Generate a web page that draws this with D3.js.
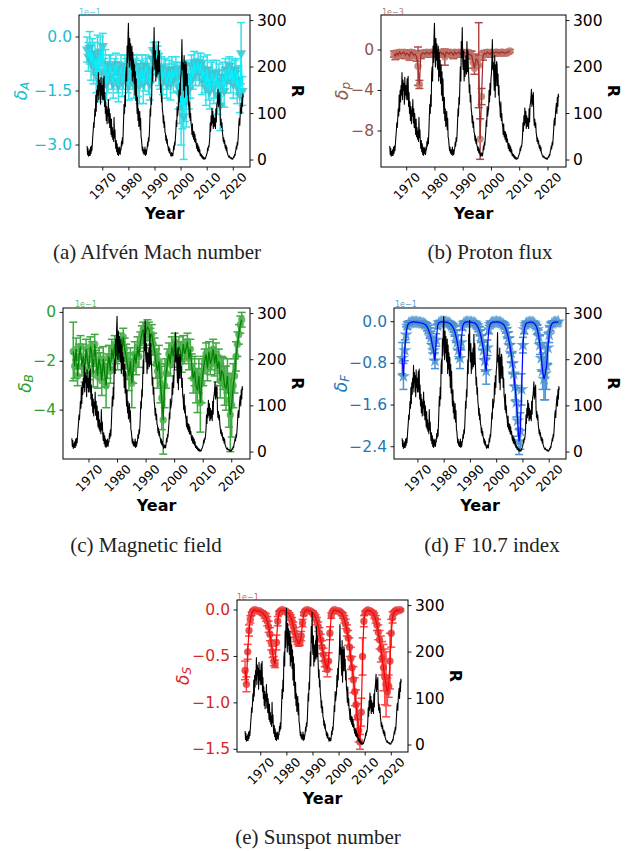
<!DOCTYPE html>
<html><head><meta charset="utf-8">
<script src="https://cdn.jsdelivr.net/npm/d3@7"></script>
<style>body{margin:0;background:#fff}svg{display:block}</style>
</head><body><svg id="c" width="635" height="851"></svg>
<script>
// ---------------- DATA ----------------
// Sunspot number R (bi-monthly samples)
const rYears = [
1964,1964.17,1964.33,1964.5,1964.67,1964.83, 1965,1965.17,1965.33,1965.5,1965.67,1965.83,
1966,1966.17,1966.33,1966.5,1966.67,1966.83, 1967,1967.17,1967.33,1967.5,1967.67,1967.83,
1968,1968.17,1968.33,1968.5,1968.67,1968.83, 1969,1969.17,1969.33,1969.5,1969.67,1969.83,
1970,1970.17,1970.33,1970.5,1970.67,1970.83, 1971,1971.17,1971.33,1971.5,1971.67,1971.83,
1972,1972.17,1972.33,1972.5,1972.67,1972.83, 1973,1973.17,1973.33,1973.5,1973.67,1973.83,
1974,1974.17,1974.33,1974.5,1974.67,1974.83, 1975,1975.17,1975.33,1975.5,1975.67,1975.83,
1976,1976.17,1976.33,1976.5,1976.67,1976.83, 1977,1977.17,1977.33,1977.5,1977.67,1977.83,
1978,1978.17,1978.33,1978.5,1978.67,1978.83, 1979,1979.17,1979.33,1979.5,1979.67,1979.83,
1980,1980.17,1980.33,1980.5,1980.67,1980.83, 1981,1981.17,1981.33,1981.5,1981.67,1981.83,
1982,1982.17,1982.33,1982.5,1982.67,1982.83, 1983,1983.17,1983.33,1983.5,1983.67,1983.83,
1984,1984.17,1984.33,1984.5,1984.67,1984.83, 1985,1985.17,1985.33,1985.5,1985.67,1985.83,
1986,1986.17,1986.33,1986.5,1986.67,1986.83, 1987,1987.17,1987.33,1987.5,1987.67,1987.83,
1988,1988.17,1988.33,1988.5,1988.67,1988.83, 1989,1989.17,1989.33,1989.5,1989.67,1989.83,
1990,1990.17,1990.33,1990.5,1990.67,1990.83, 1991,1991.17,1991.33,1991.5,1991.67,1991.83,
1992,1992.17,1992.33,1992.5,1992.67,1992.83, 1993,1993.17,1993.33,1993.5,1993.67,1993.83,
1994,1994.17,1994.33,1994.5,1994.67,1994.83, 1995,1995.17,1995.33,1995.5,1995.67,1995.83,
1996,1996.17,1996.33,1996.5,1996.67,1996.83, 1997,1997.17,1997.33,1997.5,1997.67,1997.83,
1998,1998.17,1998.33,1998.5,1998.67,1998.83, 1999,1999.17,1999.33,1999.5,1999.67,1999.83,
2000,2000.17,2000.33,2000.5,2000.67,2000.83, 2001,2001.17,2001.33,2001.5,2001.67,2001.83,
2002,2002.17,2002.33,2002.5,2002.67,2002.83, 2003,2003.17,2003.33,2003.5,2003.67,2003.83,
2004,2004.17,2004.33,2004.5,2004.67,2004.83, 2005,2005.17,2005.33,2005.5,2005.67,2005.83,
2006,2006.17,2006.33,2006.5,2006.67,2006.83, 2007,2007.17,2007.33,2007.5,2007.67,2007.83,
2008,2008.17,2008.33,2008.5,2008.67,2008.83, 2009,2009.17,2009.33,2009.5,2009.67,2009.83,
2010,2010.17,2010.33,2010.5,2010.67,2010.83, 2011,2011.17,2011.33,2011.5,2011.67,2011.83,
2012,2012.17,2012.33,2012.5,2012.67,2012.83, 2013,2013.17,2013.33,2013.5,2013.67,2013.83,
2014,2014.17,2014.33,2014.5,2014.67,2014.83, 2015,2015.17,2015.33,2015.5,2015.67,2015.83,
2016,2016.17,2016.33,2016.5,2016.67,2016.83, 2017,2017.17,2017.33,2017.5,2017.67,2017.83,
2018,2018.17,2018.33,2018.5,2018.67,2018.83, 2019,2019.17,2019.33,2019.5,2019.67,2019.83,
2020,2020.17,2020.33,2020.5,2020.67,2020.83, 2021,2021.17,2021.33,2021.5,2021.67,2021.83,
2022,2022.17,2022.33,2022.5,2022.67,2022.83, 2023,2023.17,2023.33,2023.5,2023.67,2023.83];
const sunspotR = [
30,12,25,8,18,10, 22,10,28,14,30,20,
35,50,62,80,70,90, 110,95,140,105,150,125,
160,140,188,130,172,150, 165,120,178,140,160,130,
155,175,130,180,115,145, 100,125,85,115,78,108,
95,130,80,110,70,100, 75,55,88,50,70,45,
62,40,92,48,65,38, 25,42,18,35,12,28,
10,25,14,28,12,22, 22,40,30,48,35,60,
90,120,100,140,115,185, 200,170,245,210,265,294,
230,200,262,215,250,205, 195,245,170,232,180,215,
165,205,140,190,128,175, 125,100,135,85,110,72,
82,105,65,90,50,45, 32,20,28,15,22,12,
15,28,10,22,12,20, 25,38,30,48,40,55,
80,110,95,135,120,165, 200,170,255,220,285,212,
195,235,170,215,180,205, 225,185,255,190,235,200,
175,145,162,125,140,110, 102,80,95,70,82,60,
58,42,52,36,45,32, 30,20,28,16,24,14,
12,8,16,10,14,9, 18,30,22,38,32,48,
62,85,72,115,95,105, 110,150,125,165,140,175,
185,215,259,195,210,180, 150,225,135,205,160,212,
205,160,185,140,160,122, 115,92,125,85,100,78,
72,55,78,50,62,45, 60,40,55,38,45,32,
25,36,20,32,18,28, 15,22,10,14,8,12,
5,9,3,7,2,5, 2,4,3,7,9,13,
15,26,20,30,28,36, 50,80,62,95,75,112,
80,105,68,95,72,90, 85,68,110,82,118,122,
135,152,115,140,120,145, 92,75,88,70,80,60,
52,40,48,35,42,30, 25,32,20,28,16,14,
10,8,6,9,5,6, 4,3,5,2,3,2,
5,8,6,12,10,18, 22,30,24,38,32,45,
62,82,90,75,100,112, 122,100,135,115,142,135];

// Delta series (semi-annual samples)
const dYears = [
1964,1964.5,1965,1965.5,1966,1966.5,1967,1967.5,1968,1968.5,1969,1969.5,1970,1970.5,1971,1971.5,1972,1972.5,1973,1973.5,
1974,1974.5,1975,1975.5,1976,1976.5,1977,1977.5,1978,1978.5,1979,1979.5,1980,1980.5,1981,1981.5,1982,1982.5,1983,1983.5,
1984,1984.5,1985,1985.5,1986,1986.5,1987,1987.5,1988,1988.5,1989,1989.5,1990,1990.5,1991,1991.5,1992,1992.5,1993,1993.5,
1994,1994.5,1995,1995.5,1996,1996.5,1997,1997.5,1998,1998.5,1999,1999.5,2000,2000.5,2001,2001.5,2002,2002.5,2003,2003.5,
2004,2004.5,2005,2005.5,2006,2006.5,2007,2007.5,2008,2008.5,2009,2009.5,2010,2010.5,2011,2011.5,2012,2012.5,2013,2013.5,
2014,2014.5,2015,2015.5,2016,2016.5,2017,2017.5,2018,2018.5,2019,2019.5,2020,2020.5,2021,2021.5,2022,2022.5,2023,2023.5];

// (a) Alfvén Mach number, units of 1e-1
const deltaA = [
-0.35,-0.55,-0.30,-0.70,-0.45,-0.85,-0.60,-1.05,-0.50,-1.20,-0.40,-0.95,-0.25,-1.00,-0.75,-1.30,-1.15,-0.85,-0.80,-1.10,
-1.30,-0.90,-0.75,-1.20,-1.35,-1.00,-0.85,-1.25,-1.10,-0.80,-0.90,-1.20,-1.35,-0.95,-0.80,-1.10,-1.30,-0.90,-0.80,-1.20,
-1.35,-1.00,-0.90,-1.30,-1.10,-0.80,-0.95,-1.20,-1.30,-0.90,-0.60,-0.40,-0.70,-0.45,-0.55,-0.90,-1.10,-0.85,-1.20,-0.95,
-0.90,-1.30,-1.10,-0.95,-1.30,-0.90,-1.15,-1.00,-0.90,-1.10,-1.40,-1.60,-1.90,-1.65,-2.20,-1.50,-1.80,-1.20,-1.45,-1.25,
-0.80,-1.10,-0.70,-1.00,-0.90,-0.70,-1.00,-0.75,-1.20,-0.90,-1.10,-1.40,-0.90,-1.30,-1.50,-1.10,-1.00,-1.40,-1.30,-1.00,
-1.60,-1.20,-1.90,-1.40,-1.10,-1.50,-0.90,-1.20,-1.00,-0.80,-1.20,-0.90,-1.30,-1.00,-0.90,-1.40,-1.20,-1.60,-0.45,-1.50];
const errA = [
0.35,0.40,0.45,0.50,0.40,0.45,0.45,0.50,0.55,0.60,0.40,0.45,0.35,0.40,0.40,0.45,0.40,0.35,0.30,0.35,
0.40,0.30,0.30,0.35,0.45,0.30,0.35,0.40,0.35,0.30,0.30,0.35,0.40,0.35,0.30,0.35,0.40,0.30,0.30,0.45,
0.50,0.35,0.40,0.55,0.40,0.30,0.35,0.40,0.45,0.35,0.30,0.25,0.35,0.30,0.30,0.45,0.35,0.30,0.40,0.35,
0.30,0.40,0.35,0.30,0.45,0.35,0.40,0.30,0.35,0.40,0.60,0.80,1.10,0.90,1.20,0.85,0.70,0.50,0.55,0.45,
0.30,0.35,0.30,0.35,0.30,0.25,0.35,0.30,0.40,0.35,0.45,0.50,0.40,0.45,0.50,0.40,0.35,0.45,0.40,0.35,
0.55,0.45,0.70,0.50,0.40,0.45,0.30,0.35,0.30,0.25,0.35,0.30,0.40,0.35,0.30,0.45,0.40,0.50,0.85,0.40];

// (b) Proton flux, units of 1e-3
const deltaP = [
null,null,null,-0.40,-0.60,-0.30,-0.50,-0.20,-0.40,-0.30,-0.20,-0.50,-0.30,-0.40,-0.60,-0.20,-0.30,-0.50,-0.40,-0.70,
-1.60,-3.40,-0.50,-0.30,-0.30,-0.40,-0.20,-0.30,-0.40,-0.20,-0.30,-0.20,-0.20,-0.30,-0.40,-0.30,-0.20,-0.40,-0.30,-0.70,
-0.20,-0.30,-0.40,-0.20,-0.30,-0.50,-0.20,-0.40,-0.30,-0.20,-0.40,-0.30,-0.20,-0.30,-0.30,-0.20,-0.40,-0.50,-0.50,-1.20,
-1.80,-0.90,-1.00,-1.50,-8.80,-4.60,-0.60,-0.30,-0.40,-0.20,-0.30,-0.40,-0.20,-0.30,-0.30,-0.20,-0.20,-0.30,-0.30,-0.20,
-0.20,-0.30,-0.30,-0.20,-0.20,-0.10,null,null,null,null,null,null,null,null,null,null,null,null,null,null,
null,null,null,null,null,null,null,null,null,null,null,null,null,null,null,null,null,null,null,null];
const errP = [
null,null,null,0.30,0.35,0.25,0.30,0.20,0.25,0.30,0.20,0.35,0.25,0.30,0.40,0.20,0.25,0.30,0.30,0.40,
1.90,0.40,0.35,0.25,0.25,0.30,0.20,0.25,0.30,0.20,0.25,0.20,0.20,0.25,0.30,0.25,0.20,0.30,0.25,0.80,
0.20,0.25,0.30,0.20,0.25,0.35,0.20,0.30,0.25,0.20,0.30,0.25,0.20,0.25,0.25,0.20,0.30,0.35,0.40,0.60,
0.60,0.50,0.50,4.20,2.00,0.80,0.40,0.25,0.30,0.20,0.25,0.30,0.20,0.25,0.25,0.20,0.20,0.25,0.25,0.20,
0.20,0.25,0.25,0.20,0.20,0.15,null,null,null,null,null,null,null,null,null,null,null,null,null,null,
null,null,null,null,null,null,null,null,null,null,null,null,null,null,null,null,null,null,null,null];

// (c) Magnetic field, units of 1e-1
const deltaB = [
null,-1.60,-2.20,-1.50,-2.60,-1.80,-1.40,-2.20,-1.80,-2.40,-1.50,-2.00,-2.30,-1.40,-1.70,-2.50,-1.30,-2.00,-2.60,-1.90,
-2.20,-2.80,-1.90,-2.50,-3.00,-2.20,-1.80,-2.40,-1.50,-1.90,-1.30,-1.70,-1.90,-1.40,-1.20,-1.60,-1.00,-1.50,-1.80,-2.20,
-2.60,-2.00,-2.90,-2.30,-1.70,-2.10,-1.40,-1.80,-1.20,-0.90,-0.70,-1.10,-0.80,-0.60,-0.70,-1.00,-0.90,-1.30,-1.60,-2.10,
-2.40,-2.00,-2.90,-3.50,-4.40,-3.00,-2.50,-2.00,-1.70,-2.10,-1.40,-1.80,-1.20,-1.60,-1.90,-1.40,-1.60,-2.00,-1.30,-1.70,
-1.50,-1.20,-1.90,-1.50,-2.20,-2.70,-2.40,-3.00,-3.20,-2.60,-3.70,-2.90,-2.40,-2.00,-1.70,-2.30,-1.60,-2.10,-1.90,-1.50,
-2.10,-1.70,-2.30,-2.00,-2.80,-2.40,-2.50,-3.00,-3.10,-2.60,-3.60,-4.20,-3.80,-3.00,-2.60,-1.80,-1.30,-0.90,-0.50,-0.30];
const errB = [
null,1.20,0.50,0.45,0.40,0.50,0.45,0.40,0.50,0.45,0.40,0.50,0.45,0.40,0.50,0.55,0.40,0.45,0.50,0.45,
0.55,0.60,0.50,0.55,0.90,0.50,0.45,0.50,0.40,0.45,0.35,0.40,0.45,0.40,0.35,0.40,0.35,0.45,0.50,0.55,
0.60,0.55,1.00,0.60,0.50,0.45,0.40,0.45,0.40,0.35,0.30,0.35,0.35,0.30,0.30,0.35,0.40,0.45,0.55,0.60,
0.70,0.65,0.80,1.30,1.40,0.90,0.60,0.50,0.45,0.50,0.40,0.45,0.35,0.40,0.45,0.40,0.40,0.45,0.35,0.40,
0.40,0.35,0.45,0.40,0.50,0.60,0.60,0.70,0.90,0.70,1.20,0.80,0.60,0.50,0.45,0.50,0.40,0.45,0.45,0.40,
0.50,0.45,0.55,0.50,0.70,0.60,0.65,0.80,0.90,0.70,1.10,1.50,1.30,0.90,0.70,0.60,0.50,0.40,0.35,0.30];

// (d) F10.7 index, units of 1e-1
const deltaF = [
-0.70,-1.05,-0.55,-0.25,-0.08,-0.03,-0.02,-0.01,-0.01,0.00,-0.01,-0.01,-0.01,-0.02,-0.02,-0.03,-0.03,-0.05,-0.06,-0.10,
-0.15,-0.22,-0.30,-0.45,-0.55,-0.75,-0.35,-0.08,-0.02,-0.01,0.00,-0.01,-0.01,-0.01,-0.01,-0.02,-0.03,-0.05,-0.08,-0.12,
-0.18,-0.28,-0.40,-0.55,-0.70,-0.40,-0.10,-0.03,-0.01,-0.01,0.00,-0.01,-0.01,-0.01,-0.02,-0.02,-0.04,-0.07,-0.12,-0.18,
-0.28,-0.40,-0.55,-0.75,-0.95,-0.50,-0.15,-0.05,-0.02,-0.01,-0.01,-0.01,0.00,-0.01,-0.01,-0.02,-0.03,-0.05,-0.08,-0.14,
-0.22,-0.32,-0.45,-0.60,-0.80,-1.00,-1.25,-1.55,-1.90,-2.30,-2.10,-1.30,-0.45,-0.15,-0.05,-0.02,-0.02,-0.01,-0.01,-0.01,
-0.02,-0.04,-0.08,-0.15,-0.28,-0.45,-0.70,-0.95,-1.10,-1.00,-0.85,-0.50,-0.25,-0.10,-0.04,-0.02,-0.01,-0.01,-0.01,0.00];
const errF = [
0.30,0.25,0.20,0.15,0.06,0.04,0.03,0.02,0.02,0.02,0.02,0.02,0.02,0.03,0.03,0.03,0.04,0.05,0.05,0.07,
0.08,0.10,0.12,0.15,0.18,0.15,0.12,0.05,0.03,0.02,0.02,0.02,0.02,0.02,0.02,0.03,0.04,0.05,0.06,0.08,
0.10,0.12,0.14,0.16,0.20,0.14,0.06,0.03,0.02,0.02,0.02,0.02,0.02,0.02,0.03,0.03,0.04,0.05,0.07,0.09,
0.12,0.14,0.16,0.20,0.25,0.15,0.08,0.04,0.02,0.02,0.02,0.02,0.02,0.02,0.02,0.03,0.04,0.05,0.06,0.08,
0.10,0.12,0.15,0.18,0.20,0.22,0.25,0.28,0.30,0.25,0.35,0.30,0.15,0.08,0.04,0.02,0.02,0.02,0.02,0.02,
0.02,0.03,0.05,0.08,0.12,0.18,0.25,0.35,0.40,0.50,0.45,0.30,0.15,0.08,0.04,0.02,0.02,0.02,0.02,0.02];

// (e) Sunspot number, units of 1e-1
const deltaS = [
-0.65,-0.80,-0.45,-0.22,-0.10,-0.04,-0.01,0.00,0.00,-0.01,-0.01,-0.01,-0.02,-0.03,-0.04,-0.06,-0.08,-0.12,-0.18,-0.26,
-0.35,-0.45,-0.55,-0.58,-0.35,-0.12,-0.03,-0.01,0.00,0.00,-0.01,-0.01,-0.02,-0.03,-0.05,-0.08,-0.12,-0.18,-0.24,-0.30,
-0.33,-0.36,-0.35,-0.28,-0.14,-0.04,-0.01,0.00,0.00,-0.01,-0.01,-0.02,-0.03,-0.05,-0.08,-0.12,-0.18,-0.25,-0.32,-0.40,
-0.48,-0.55,-0.60,-0.64,-0.55,-0.25,-0.06,-0.02,0.00,0.00,-0.01,-0.01,-0.01,-0.02,-0.04,-0.06,-0.10,-0.15,-0.22,-0.30,
-0.40,-0.52,-0.62,-0.75,-0.88,-1.02,-1.15,-1.30,-1.42,-1.10,-0.50,-0.12,-0.03,-0.01,0.00,-0.01,-0.01,-0.02,-0.03,-0.06,
-0.10,-0.16,-0.24,-0.32,-0.42,-0.52,-0.62,-0.72,-0.80,-0.88,-0.82,-0.55,-0.25,-0.08,-0.03,-0.01,0.00,-0.01,0.00,0.00];
const errS = [
0.10,0.08,0.08,0.06,0.04,0.02,0.01,0.01,0.01,0.01,0.01,0.01,0.01,0.02,0.02,0.03,0.04,0.05,0.06,0.07,
0.08,0.06,0.05,0.04,0.08,0.05,0.02,0.01,0.01,0.01,0.01,0.01,0.01,0.02,0.02,0.03,0.04,0.05,0.05,0.04,
0.04,0.03,0.03,0.05,0.04,0.02,0.01,0.01,0.01,0.01,0.01,0.01,0.02,0.02,0.03,0.04,0.05,0.06,0.06,0.07,
0.07,0.06,0.06,0.08,0.09,0.07,0.03,0.01,0.01,0.01,0.01,0.01,0.01,0.01,0.02,0.03,0.04,0.05,0.06,0.08,
0.10,0.12,0.12,0.14,0.15,0.16,0.14,0.12,0.08,0.15,0.20,0.06,0.02,0.01,0.01,0.01,0.01,0.01,0.02,0.03,
0.04,0.06,0.08,0.10,0.14,0.18,0.25,0.30,0.35,0.15,0.12,0.30,0.15,0.06,0.02,0.01,0.01,0.01,0.01,0.01];

const xTickYears = [1970, 1980, 1990, 2000, 2010, 2020];
const rTicks = [0, 100, 200, 300];

// ---------------- LAYOUT / STYLE ----------------
const xDomain = [1960.9, 2026.4];
const rDomain = [-15, 312];

const panels = [
  {id:"a", box:[79,250,15,167], yDom:[-3.61,0.61], yTicks:[0,-1.5,-3.0], fmt:".1f",
   vals:deltaA, errs:errA, sub:"A", offset:"1e\u22121", offX:79, offY:12, labX:21,
   tickColor:"#17becf", errColor:"#12dbe8", mkColor:"#3cc3cf", lnColor:"#00f2ff", marker:"tri",
   caption:"(a) Alfv\u00e9n Mach number", capX:157, capY:252},
  {id:"b", box:[381,566,15,167], yDom:[-11.56,3.46], yTicks:[0,-4,-8], fmt:"d",
   vals:deltaP, errs:errP, sub:"p", offset:"1e\u22123", offX:382, offY:12, labX:342,
   tickColor:"#8c564b", errColor:"#a52a2a", mkColor:"#c07a6e", lnColor:"#a52a2a", marker:"circle",
   caption:"(b) Proton flux", capX:490, capY:252},
  {id:"c", box:[63,250,308,459], yDom:[-6.0,0.18], yTicks:[0,-2,-4], fmt:"d",
   vals:deltaB, errs:errB, sub:"B", offset:"1e\u22121", offX:75, offY:304, labX:25,
   tickColor:"#2ca02c", errColor:"#1f9a1f", mkColor:"#4cb04c", lnColor:"#008000", marker:"circle",
   caption:"(c) Magnetic field", capX:146, capY:545},
  {id:"d", box:[394,566,308,459], yDom:[-2.636,0.263], yTicks:[0,-0.8,-1.6,-2.4], fmt:".1f",
   vals:deltaF, errs:errF, sub:"F", offset:"1e\u22121", offX:395, offY:304, labX:341,
   tickColor:"#1f77b4", errColor:"#2a7fd0", mkColor:"#4a93cc", lnColor:"#0000ff", marker:"star",
   caption:"(d) F 10.7 index", capX:492, capY:545},
  {id:"e", box:[237,408,600,752], yDom:[-1.529,0.108], yTicks:[0,-0.5,-1.0,-1.5], fmt:".1f",
   vals:deltaS, errs:errS, sub:"S", offset:"1e\u22121", offX:237, offY:597, labX:183,
   tickColor:"#d62728", errColor:"#ff2a2a", mkColor:"#e03a3a", lnColor:"#ff0000", marker:"circle",
   caption:"(e) Sunspot number", capX:318, capY:837}
];

const svg = d3.select("#c");
svg.append("rect").attr("width",635).attr("height",851).attr("fill","#fff");
const defs = svg.append("defs");

function drawPanel(p){
  const [x0,x1,y0,y1] = p.box;
  const x = d3.scaleLinear().domain(xDomain).range([x0,x1]);
  const y = d3.scaleLinear().domain(p.yDom).range([y1,y0]);
  const yR = d3.scaleLinear().domain(rDomain).range([y1,y0]);
  const g = svg.append("g");
  defs.append("clipPath").attr("id","clip"+p.id).append("rect")
    .attr("x",x0).attr("y",y0).attr("width",x1-x0).attr("height",y1-y0);
  const plot = g.append("g").attr("clip-path",`url(#clip${p.id})`);

  const pts = dYears.map((t,i)=>({t, v:p.vals[i], e:p.errs[i]})).filter(d=>d.v!=null);

  // error bars
  const cw = 4;
  const eb = plot.append("g").attr("stroke",p.errColor).attr("stroke-width",1.5).attr("opacity",0.85);
  eb.selectAll("line.v").data(pts).join("line").attr("class","v")
    .attr("x1",d=>x(d.t)).attr("x2",d=>x(d.t)).attr("y1",d=>y(d.v-d.e)).attr("y2",d=>y(d.v+d.e));
  eb.selectAll("line.ct").data(pts).join("line").attr("class","ct")
    .attr("x1",d=>x(d.t)-cw).attr("x2",d=>x(d.t)+cw).attr("y1",d=>y(d.v+d.e)).attr("y2",d=>y(d.v+d.e));
  eb.selectAll("line.cb").data(pts).join("line").attr("class","cb")
    .attr("x1",d=>x(d.t)-cw).attr("x2",d=>x(d.t)+cw).attr("y1",d=>y(d.v-d.e)).attr("y2",d=>y(d.v-d.e));

  // markers
  let sym = d3.symbolCircle, rot = 0, size = 42;
  if(p.marker==="tri"){ sym = d3.symbolTriangle; rot = 180; size = 46; }
  if(p.marker==="star"){ sym = d3.symbolStar; size = 55; }
  const symPath = d3.symbol().type(sym).size(size)();
  plot.append("g").attr("fill",p.mkColor).attr("opacity",0.85)
    .selectAll("path").data(pts).join("path")
    .attr("d",symPath)
    .attr("transform",d=>`translate(${x(d.t)},${y(d.v)}) rotate(${rot})`);

  // connecting line
  const line = d3.line().defined(d=>d.v!=null).x(d=>x(d.t)).y(d=>y(d.v));
  plot.append("path").datum(dYears.map((t,i)=>({t, v:p.vals[i]})))
    .attr("d",line).attr("fill","none").attr("stroke",p.lnColor).attr("stroke-width",1.2);

  // sunspot number (twin axis, on top)
  const rl = d3.line().x((d,i)=>x(rYears[i])).y(d=>yR(d));
  plot.append("path").datum(sunspotR).attr("d",rl)
    .attr("fill","none").attr("stroke","#000").attr("stroke-width",1.1).attr("stroke-linejoin","round");

  // frame
  g.append("rect").attr("x",x0).attr("y",y0).attr("width",x1-x0).attr("height",y1-y0)
    .attr("fill","none").attr("stroke","#000").attr("stroke-width",1);

  const fmt = d3.format(p.fmt);
  p.yTicks.forEach(v=>{
    const yy = y(v);
    g.append("line").attr("x1",x0-3.5).attr("x2",x0).attr("y1",yy).attr("y2",yy).attr("stroke","#000").attr("stroke-width",0.9);
    g.append("text").attr("x",x0-7).attr("y",yy).attr("text-anchor","end").attr("dominant-baseline","central")
      .attr("fill",p.tickColor).style("font-family","DejaVu Sans").style("font-size","15.5px").text(fmt(v));
  });
  rTicks.forEach(v=>{
    const yy = yR(v);
    g.append("line").attr("x1",x1).attr("x2",x1+3.5).attr("y1",yy).attr("y2",yy).attr("stroke","#000").attr("stroke-width",0.9);
    g.append("text").attr("x",x1+7).attr("y",yy).attr("text-anchor","start").attr("dominant-baseline","central")
      .attr("fill","#000").style("font-family","DejaVu Sans").style("font-size","15.5px").text(v);
  });
  xTickYears.forEach(v=>{
    const xx = x(v);
    g.append("line").attr("x1",xx).attr("x2",xx).attr("y1",y1).attr("y2",y1+3.5).attr("stroke","#000").attr("stroke-width",0.9);
    g.append("text").attr("transform",`translate(${xx},${y1+19}) rotate(-45)`)
      .attr("text-anchor","middle").attr("dominant-baseline","central")
      .style("font-family","DejaVu Sans").style("font-size","12.5px").attr("fill","#000").text(v);
  });
  g.append("text").attr("x",p.offX).attr("y",p.offY).attr("dominant-baseline","central")
    .attr("fill",p.tickColor).attr("opacity",0.75).style("font-family","DejaVu Sans").style("font-size","8px").text(p.offset);
  const ym = (y0+y1)/2;
  const lab = g.append("text").attr("transform",`translate(${p.labX},${ym}) rotate(-90)`)
    .attr("text-anchor","middle").attr("dominant-baseline","central").attr("fill",p.tickColor)
    .style("font-family","DejaVu Sans").style("font-style","italic").style("font-size","17px");
  lab.append("tspan").text("\u03b4");
  lab.append("tspan").attr("dy",4).style("font-size","12px").text(p.sub);
  g.append("text").attr("transform",`translate(${x1+47},${ym}) rotate(90)`)
    .attr("text-anchor","middle").attr("dominant-baseline","central")
    .style("font-family","DejaVu Sans").style("font-weight","bold").style("font-size","16px").text("R");
  g.append("text").attr("x",(x0+x1)/2).attr("y",y1+46).attr("text-anchor","middle").attr("dominant-baseline","central")
    .style("font-family","DejaVu Sans").style("font-weight","bold").style("font-size","16px").text("Year");
  svg.append("text").attr("x",p.capX).attr("y",p.capY).attr("text-anchor","middle").attr("dominant-baseline","central")
    .style("font-family","Liberation Serif").style("font-size","21px").attr("fill","#222").text(p.caption);
}
panels.forEach(drawPanel);
</script></body></html>
